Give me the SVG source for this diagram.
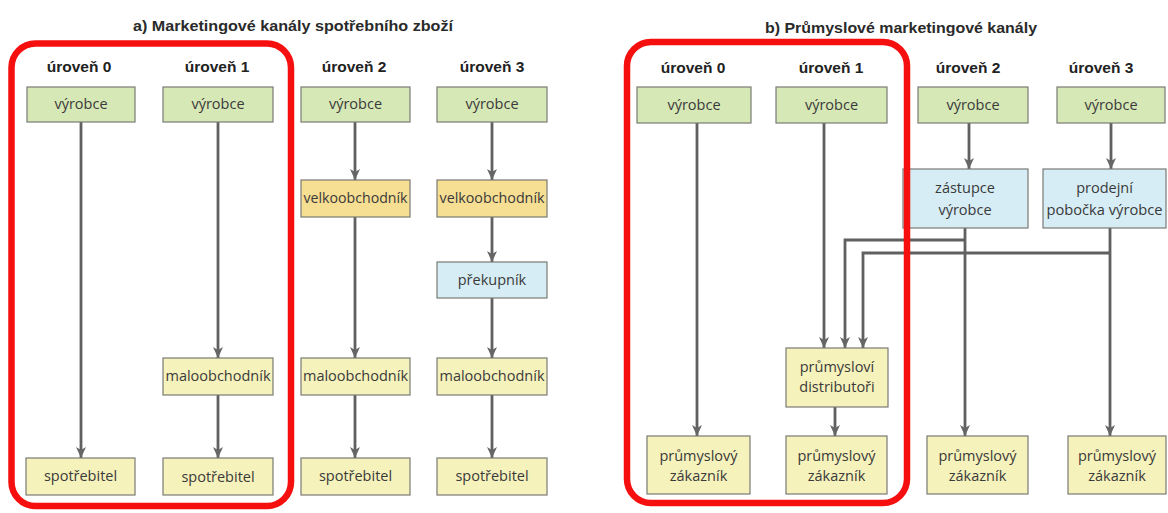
<svg xmlns="http://www.w3.org/2000/svg" width="1168" height="513" viewBox="0 0 1168 513">
  <style>
    .title { font-family: "Liberation Sans", Arial, sans-serif; font-size: 15px; font-weight: bold; fill: #2a2a2a; }
    .head { font-family: "Liberation Sans", Arial, sans-serif; font-size: 15.5px; font-weight: bold; fill: #222; text-anchor: middle; }
    .lbl { font-family: "Open Sans", "Liberation Sans", Arial, sans-serif; font-size: 14.5px; fill: #3a3a3a; text-anchor: middle; }
    .box { stroke: #7a7a76; stroke-width: 1.2; }
    .green { fill: #d6e8b6; }
    .yellow { fill: #f6f2bc; }
    .orange { fill: #f6de92; }
    .blue { fill: #d6edf5; }
    .conn { stroke: #606060; stroke-width: 2.8; fill: none; }
    .frame { fill: none; stroke: #f50f0f; stroke-width: 6.5; }
  </style>
  <defs>
    <marker id="arr" markerUnits="userSpaceOnUse" markerWidth="11" markerHeight="11" viewBox="0 0 11 11" refX="11" refY="5.5" orient="auto">
      <path d="M0,0.5 L11,5.5 L0,10.5 L3,5.5 z" fill="#666"/>
    </marker>
  </defs>
  <rect width="1168" height="513" fill="#ffffff"/>

  <!-- titles -->
  <text class="title" x="133" y="31" textLength="320" lengthAdjust="spacingAndGlyphs">a) Marketingové kanály spotřebního zboží</text>
  <text class="title" x="765" y="33" textLength="272" lengthAdjust="spacingAndGlyphs">b) Průmyslové marketingové kanály</text>

  <!-- column headings -->
  <g id="headings">
    <text class="head" x="79" y="72">úroveň 0</text>
    <text class="head" x="217" y="72">úroveň 1</text>
    <text class="head" x="354" y="72">úroveň 2</text>
    <text class="head" x="492" y="72">úroveň 3</text>
    <text class="head" x="693" y="73">úroveň 0</text>
    <text class="head" x="831" y="73">úroveň 1</text>
    <text class="head" x="968" y="73">úroveň 2</text>
    <text class="head" x="1101" y="73">úroveň 3</text>
  </g>

  <!-- connectors -->
  <g id="connectors">
    <!-- a) consumer goods channels -->
    <line class="conn" x1="81" y1="122" x2="81" y2="458" marker-end="url(#arr)"/>
    <line class="conn" x1="218" y1="122" x2="218" y2="358" marker-end="url(#arr)"/>
    <line class="conn" x1="218" y1="395" x2="218" y2="458" marker-end="url(#arr)"/>
    <line class="conn" x1="355" y1="122" x2="355" y2="180" marker-end="url(#arr)"/>
    <line class="conn" x1="355" y1="217" x2="355" y2="358" marker-end="url(#arr)"/>
    <line class="conn" x1="355" y1="395" x2="355" y2="458" marker-end="url(#arr)"/>
    <line class="conn" x1="492" y1="122" x2="492" y2="180" marker-end="url(#arr)"/>
    <line class="conn" x1="492" y1="217" x2="492" y2="262" marker-end="url(#arr)"/>
    <line class="conn" x1="492" y1="298" x2="492" y2="358" marker-end="url(#arr)"/>
    <line class="conn" x1="492" y1="395" x2="492" y2="458" marker-end="url(#arr)"/>
    <!-- b) industrial channels -->
    <line class="conn" x1="697" y1="123" x2="697" y2="436" marker-end="url(#arr)"/>
    <line class="conn" x1="824" y1="123" x2="824" y2="348" marker-end="url(#arr)"/>
    <line class="conn" x1="835" y1="407" x2="835" y2="436" marker-end="url(#arr)"/>
    <line class="conn" x1="969" y1="123" x2="969" y2="169" marker-end="url(#arr)"/>
    <line class="conn" x1="1111" y1="123" x2="1111" y2="169" marker-end="url(#arr)"/>
    <line class="conn" x1="965" y1="228" x2="965" y2="436" marker-end="url(#arr)"/>
    <line class="conn" x1="1110" y1="228" x2="1110" y2="436" marker-end="url(#arr)"/>
    <polyline class="conn" points="965,240 845,240 845,348" marker-end="url(#arr)"/>
    <polyline class="conn" points="1110,253 863,253 863,348" marker-end="url(#arr)"/>
  </g>

  <!-- a) level 0 -->
  <g id="a0-vyrobce"><rect class="box green" x="27" y="87" width="108" height="35"/><text class="lbl" x="81" y="109">výrobce</text></g>
  <g id="a0-spotrebitel"><rect class="box yellow" x="26" y="458" width="109" height="37"/><text class="lbl" x="80.5" y="481">spotřebitel</text></g>
  <!-- a) level 1 -->
  <g id="a1-vyrobce"><rect class="box green" x="163" y="87" width="110" height="35"/><text class="lbl" x="218" y="109">výrobce</text></g>
  <g id="a1-maloobchodnik"><rect class="box yellow" x="163" y="358" width="110" height="37"/><text class="lbl" x="218" y="381">maloobchodník</text></g>
  <g id="a1-spotrebitel"><rect class="box yellow" x="163" y="458" width="110" height="37"/><text class="lbl" x="218" y="482">spotřebitel</text></g>
  <!-- a) level 2 -->
  <g id="a2-vyrobce"><rect class="box green" x="301" y="87" width="109" height="35"/><text class="lbl" x="355.5" y="109">výrobce</text></g>
  <g id="a2-velkoobchodnik"><rect class="box orange" x="301" y="180" width="109" height="37"/><text class="lbl" x="355.5" y="203" textLength="104" lengthAdjust="spacingAndGlyphs">velkoobchodník</text></g>
  <g id="a2-maloobchodnik"><rect class="box yellow" x="301" y="358" width="109" height="37"/><text class="lbl" x="355.5" y="381">maloobchodník</text></g>
  <g id="a2-spotrebitel"><rect class="box yellow" x="301" y="458" width="109" height="37"/><text class="lbl" x="355.5" y="481">spotřebitel</text></g>
  <!-- a) level 3 -->
  <g id="a3-vyrobce"><rect class="box green" x="437" y="87" width="110" height="35"/><text class="lbl" x="492" y="109">výrobce</text></g>
  <g id="a3-velkoobchodnik"><rect class="box orange" x="437" y="180" width="110" height="37"/><text class="lbl" x="492" y="203" textLength="105" lengthAdjust="spacingAndGlyphs">velkoobchodník</text></g>
  <g id="a3-prekupnik"><rect class="box blue" x="437" y="262" width="110" height="36"/><text class="lbl" x="492" y="285">překupník</text></g>
  <g id="a3-maloobchodnik"><rect class="box yellow" x="437" y="358" width="110" height="37"/><text class="lbl" x="492" y="381">maloobchodník</text></g>
  <g id="a3-spotrebitel"><rect class="box yellow" x="437" y="458" width="110" height="37"/><text class="lbl" x="492" y="481">spotřebitel</text></g>

  <!-- b) level 0 -->
  <g id="b0-vyrobce"><rect class="box green" x="637" y="87" width="114" height="36"/><text class="lbl" x="694" y="110">výrobce</text></g>
  <g id="b0-zakaznik"><rect class="box yellow" x="647" y="436" width="103" height="58"/><text class="lbl" x="698.5" y="461">průmyslový</text><text class="lbl" x="698.5" y="481">zákazník</text></g>
  <!-- b) level 1 -->
  <g id="b1-vyrobce"><rect class="box green" x="776" y="87" width="111" height="36"/><text class="lbl" x="831.5" y="110">výrobce</text></g>
  <g id="b1-distributori"><rect class="box yellow" x="786" y="348" width="102" height="59"/><text class="lbl" x="837" y="372">průmysloví</text><text class="lbl" x="837" y="392">distributoři</text></g>
  <g id="b1-zakaznik"><rect class="box yellow" x="786" y="436" width="101" height="58"/><text class="lbl" x="836.5" y="461">průmyslový</text><text class="lbl" x="836.5" y="481">zákazník</text></g>
  <!-- b) level 2 -->
  <g id="b2-vyrobce"><rect class="box green" x="918" y="87" width="110" height="36"/><text class="lbl" x="973" y="110">výrobce</text></g>
  <g id="b2-zastupce"><rect class="box blue" x="903" y="169" width="125" height="59"/><text class="lbl" x="965" y="193">zástupce</text><text class="lbl" x="965" y="215">výrobce</text></g>
  <g id="b2-zakaznik"><rect class="box yellow" x="927" y="436" width="101" height="58"/><text class="lbl" x="977.5" y="461">průmyslový</text><text class="lbl" x="977.5" y="481">zákazník</text></g>
  <!-- b) level 3 -->
  <g id="b3-vyrobce"><rect class="box green" x="1057" y="87" width="108" height="36"/><text class="lbl" x="1111" y="110">výrobce</text></g>
  <g id="b3-pobocka"><rect class="box blue" x="1043" y="169" width="123" height="59"/><text class="lbl" x="1104.5" y="193">prodejní</text><text class="lbl" x="1104.5" y="215" textLength="116" lengthAdjust="spacingAndGlyphs">pobočka výrobce</text></g>
  <g id="b3-zakaznik"><rect class="box yellow" x="1068" y="436" width="98" height="58"/><text class="lbl" x="1117" y="461">průmyslový</text><text class="lbl" x="1117" y="481">zákazník</text></g>

  <!-- highlight frames -->
  <g id="frames">
    <rect class="frame" x="11.5" y="43.5" width="279.5" height="462.5" rx="24"/>
    <rect class="frame" x="627" y="42" width="280" height="461" rx="24"/>
  </g>
</svg>
